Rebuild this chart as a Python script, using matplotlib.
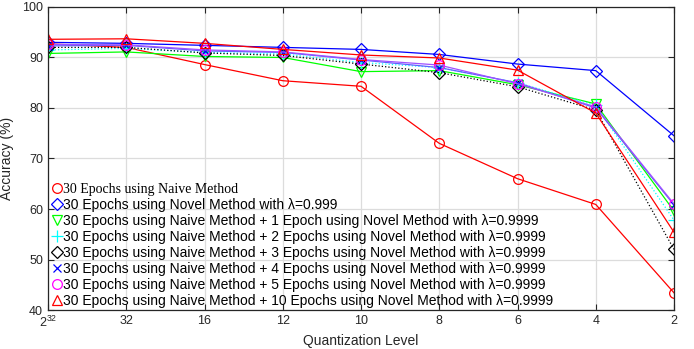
import matplotlib
matplotlib.use('Agg')
import matplotlib.pyplot as plt
from matplotlib.lines import Line2D

plt.rcParams['font.family'] = ['Liberation Sans', 'DejaVu Sans']
plt.rcParams['mathtext.default'] = 'regular'

# Quantization levels (x axis, equally spaced categories)
levels = ['$2^{32}$', '32', '16', '12', '10', '8', '6', '4', '2']

naive = [92.7, 92.0, 88.6, 85.4, 84.3, 73.0, 66.0, 60.9, 43.4]
novel = [93.0, 92.8, 92.4, 92.0, 91.6, 90.6, 88.7, 87.4, 74.5]
plus1 = [90.8, 91.1, 90.2, 90.0, 87.2, 87.4, 84.6, 80.8, 59.6]
plus2 = [91.5, 91.8, 91.0, 90.7, 89.0, 88.0, 85.0, 80.5, 57.8]
plus3 = [92.0, 92.0, 90.9, 90.4, 88.7, 87.0, 84.2, 79.6, 52.0]
plus4 = [92.3, 92.4, 91.3, 91.0, 89.5, 88.0, 85.0, 80.0, 60.8]
plus5 = [92.6, 92.5, 91.5, 91.1, 89.6, 88.5, 84.8, 80.2, 61.0]
plus10 = [93.6, 93.7, 92.8, 91.6, 90.5, 89.9, 87.5, 79.0, 55.4]

labels = [
    '30 Epochs using Naive Method',
    '30 Epochs using Novel Method with \u03bb=0.999',
    '30 Epochs using Naive Method + 1 Epoch using Novel Method with \u03bb=0.9999',
    '30 Epochs using Naive Method + 2 Epochs using Novel Method with \u03bb=0.9999',
    '30 Epochs using Naive Method + 3 Epochs using Novel Method with \u03bb=0.9999',
    '30 Epochs using Naive Method + 4 Epochs using Novel Method with \u03bb=0.9999',
    '30 Epochs using Naive Method + 5 Epochs using Novel Method with \u03bb=0.9999',
    '30 Epochs using Naive Method + 10 Epochs using Novel Method with \u03bb=0.9999',
]
series = [naive, novel, plus1, plus2, plus3, plus4, plus5, plus10]
colors = ['#ff0000', '#0000ff', '#00ff00', '#00ffff', '#000000', '#0000ff', '#ff00ff', '#ff0000']
line_colors = ['#ff0000', '#0000ff', '#00ff00', '#00ffff', '#000000', '#6060ff', '#a050ff', '#ff0000']
markers = ['o', 'D', 'v', '+', 'D', 'x', 'o', '^']
msizes = [7, 6, 7, 8, 6, 6, 7, 7]
styles = ['-', '-', '-', ':', ':', '-', '-', '-']

fig = plt.figure(figsize=(6.94, 3.49), dpi=100)
ax = fig.add_axes([0.0692, 0.1117, 0.902, 0.8683])

x = list(range(len(levels)))
handles = []
for vals, c, lc, m, ms, ls in zip(series, colors, line_colors, markers, msizes, styles):
    ax.plot(x, vals, color=lc, linestyle=ls, linewidth=0.9)
    ax.plot(x, vals, color=c, linestyle='none', marker=m, markersize=ms,
            markerfacecolor='none', markeredgewidth=0.9)
    handles.append(Line2D([], [], color=c, linestyle='none', marker=m, markersize=ms,
                          markerfacecolor='none', markeredgewidth=0.9))

ax.set_xlim(0, 8)
ax.set_ylim(40, 100)
ax.set_xticks(x)
ax.set_xticklabels(levels)
ax.set_yticks(range(40, 101, 10))
ax.grid(True, color='#dcdcdc', linewidth=0.9)
ax.set_axisbelow(True)
ax.tick_params(direction='in', top=True, right=True, labelsize=9,
               colors='#262626', length=4)
for s in ax.spines.values():
    s.set_color('#262626')
    s.set_linewidth(0.9)

ax.set_xlabel('Quantization Level', fontsize=10, color='#262626', labelpad=3)
ax.set_ylabel('Accuracy (%)', fontsize=10, color='#262626', labelpad=6)

leg = ax.legend(handles, labels, loc='lower left', bbox_to_anchor=(-0.001, -0.012),
                frameon=False, fontsize=10, handlelength=0.6, handletextpad=0.1,
                labelspacing=0.15, borderaxespad=0)
leg.get_texts()[0].set_family('Liberation Serif')

fig.savefig('out.png', dpi=100)
